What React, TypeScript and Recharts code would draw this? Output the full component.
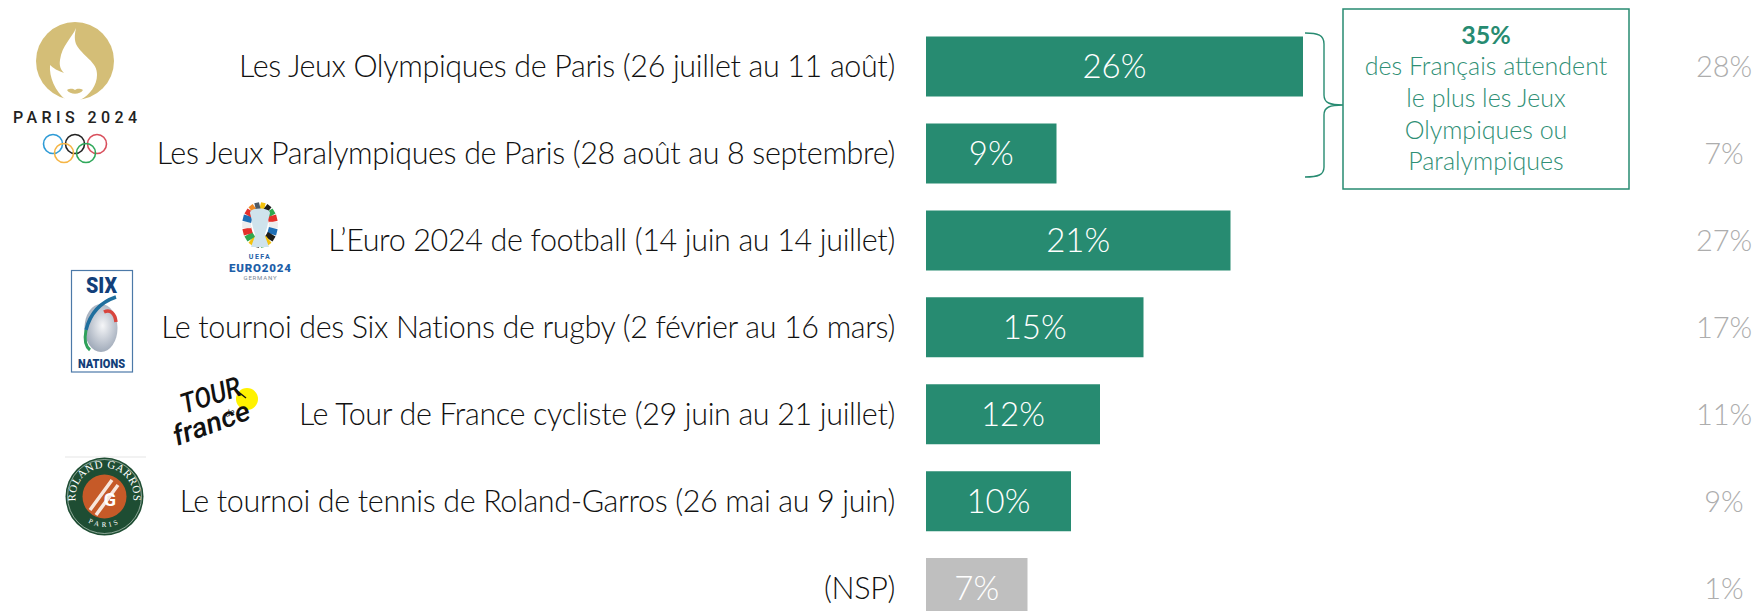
import { BarChart, Bar, XAxis, YAxis, Cell, LabelList } from "recharts";

const categories = [
  "Les Jeux Olympiques de Paris (26 juillet au 11 août)",
  "Les Jeux Paralympiques de Paris (28 août au 8 septembre)",
  "L’Euro 2024 de football (14 juin au 14 juillet)",
  "Le tournoi des Six Nations de rugby (2 février au 16 mars)",
  "Le Tour de France cycliste (29 juin au 21 juillet)",
  "Le tournoi de tennis de Roland-Garros (26 mai au 9 juin)",
  "(NSP)",
];
const currentValues = [26, 9, 21, 15, 12, 10, 7];
const previousLabels = ["28%", "7%", "27%", "17%", "11%", "9%", "1%"];
const boxLines = ["des Français attendent", "le plus les Jeux", "Olympiques ou", "Paralympiques"];
const euroStripes = ["#F4C20D", "#1D1D1B", "#2FA84F", "#E4312B", "#EDEDED", "#1F6FB5", "#1D1D1B", "#F4C20D", "#2FA84F", "#1D1D1B", "#F4C20D", "#2FA84F", "#E4312B", "#EDEDED", "#1F6FB5", "#E4312B", "#F08A24", "#4E5A66"];

const data = categories.map((name, i) => ({
  name,
  value: currentValues[i],
  previous: previousLabels[i],
}));

const FONT = "Lato, sans-serif";
const GREEN = "#278B71";
const GREY_BAR = "#BFBFBF";
const GREY_TEXT = "#ADADAD";
const TEAL_TEXT = "#2F8F75";

function CategoryTick({ x, y, payload }: any) {
  return (
    <text x={x} y={y} dy={10} textAnchor="end" fontFamily={FONT} fontWeight={300} fontSize={30.5} letterSpacing={-0.35} fill="#111">
      {payload.value}
    </text>
  );
}

function PreviousTick({ y, payload }: any) {
  return (
    <text x={1724} y={y} dy={10} textAnchor="middle" fontFamily={FONT} fontWeight={300} fontSize={29} fill={GREY_TEXT}>
      {payload.value}
    </text>
  );
}

function ParisLogo() {
  return (
    <g>
      <circle cx={75} cy={61} r={39} fill="#D4BE77" />
      <path d="M76 28 C72 38 62 45 60 60 C59 66 61 70 64 73 C58 71 53 68 50 65 C49 77 55 91 66 100 L80 100 C90 95 97 85 97 75 C98 62 82 56 76 44 C74 38 75 33 76 28 Z" fill="#fff" />
      <path d="M67 90 C71 88 73 89 75 90 C77 89 79 88 83 90 C80 95 70 95 67 90 Z" fill="#D4BE77" />
      <text x={13} y={123} fontFamily="Roboto" fontSize={16} fontWeight={500} textLength={124} fill="#222">PARIS 2024</text>
      <circle cx={53} cy={144} r={9.5} fill="none" stroke="#2E9BD6" strokeWidth={1.6} />
      <circle cx={75} cy={144} r={9.5} fill="none" stroke="#222" strokeWidth={1.6} />
      <circle cx={97} cy={144} r={9.5} fill="none" stroke="#D94F5C" strokeWidth={1.6} />
      <circle cx={64} cy={153} r={9.5} fill="none" stroke="#F5B545" strokeWidth={1.6} />
      <circle cx={86} cy={153} r={9.5} fill="none" stroke="#2FA85A" strokeWidth={1.6} />
    </g>
  );
}

function EuroLogo() {
  const step = (Math.PI * 2) / euroStripes.length;
  return (
    <g>
      {euroStripes.map((color, i) => {
        const a0 = i * step - Math.PI / 2;
        const a1 = a0 + step;
        const d = `M${260 + 13.5 * Math.cos(a0)} ${225 + 18.5 * Math.sin(a0)} L${260 + 13.5 * Math.cos(a1)} ${225 + 18.5 * Math.sin(a1)}`;
        return <path key={i} d={d} stroke={color} strokeWidth={9} fill="none" />;
      })}
      <path d="M250 213 C250 207 270 207 270 213 L268 221 C268 228 265 231 265 236 L269 247 L251 247 L255 236 C255 231 252 228 252 221 Z" fill="#CFE3EC" />
      <text x={260} y={259} textAnchor="middle" fontFamily="Roboto" fontSize={7} fontWeight={700} letterSpacing={1.5} fill="#1D5EA8">UEFA</text>
      <text x={260} y={272} textAnchor="middle" fontFamily="Roboto" fontSize={11.5} fontWeight={900} textLength={62} fill="#1D5EA8">EURO2024</text>
      <text x={260} y={280} textAnchor="middle" fontFamily="Roboto" fontSize={6} textLength={33} fill="#7A8794">GERMANY</text>
    </g>
  );
}

function SixNationsLogo() {
  return (
    <g>
      <defs>
        <radialGradient id="ball" cx="0.55" cy="0.45" r="0.6">
          <stop offset="0" stopColor="#F5F6F8" />
          <stop offset="1" stopColor="#9AA5B5" />
        </radialGradient>
      </defs>
      <rect x={71.5} y={270.5} width={61} height={101.5} fill="#fff" stroke="#4C79A8" strokeWidth={1.2} />
      <text x={101.5} y={293} textAnchor="middle" fontFamily="Roboto" fontWeight={900} fontSize={22} textLength={31} lengthAdjust="spacingAndGlyphs" fill="#123F7A">SIX</text>
      <ellipse cx={101} cy={328} rx={16.5} ry={24} fill="url(#ball)" />
      <path d="M116 297 C104 301 91 310 86 330" fill="none" stroke="#1F6F9E" strokeWidth={3.5} />
      <path d="M86 330 C84 340 85 346 90 350" fill="none" stroke="#2FA05A" strokeWidth={3} />
      <path d="M104 312 C110 309 115 313 116 322" fill="none" stroke="#D8453E" strokeWidth={3.5} />
      <text x={101.5} y={368} textAnchor="middle" fontFamily="Roboto" fontWeight={900} fontSize={13.5} textLength={47} lengthAdjust="spacingAndGlyphs" fill="#123F7A">NATIONS</text>
    </g>
  );
}

function TourLogo() {
  return (
    <g>
      <circle cx={247} cy={399} r={11} fill="#FFF200" />
      <path d="M236 390 L246 398" stroke="#111" strokeWidth={1.5} />
      <text transform="translate(184 414) rotate(-18)" fontFamily="Roboto" fontStyle="italic" fontWeight={500} fontSize={28} textLength={62} lengthAdjust="spacingAndGlyphs" fill="#111">TOUR</text>
      <text transform="translate(226 417) rotate(-15)" fontFamily="Roboto" fontStyle="italic" fontSize={9} fill="#111">de</text>
      <text transform="translate(177 446) rotate(-20)" fontFamily="Roboto" fontStyle="italic" fontWeight={500} fontSize={28} textLength={80} lengthAdjust="spacingAndGlyphs" fill="#111">france</text>
    </g>
  );
}

function RolandGarrosLogo() {
  return (
    <g>
      <line x1={65} y1={457} x2={146} y2={457} stroke="#E5E5E5" strokeWidth={1} />
      <circle cx={104.5} cy={496.5} r={39} fill="#1E4D33" />
      <circle cx={104.5} cy={496.5} r={37} fill="none" stroke="#D8E4DC" strokeWidth={0.6} />
      <circle cx={104.5} cy={496.5} r={22} fill="#C65A28" />
      <defs>
        <path id="rgTop" d="M77 506 A29 29 0 1 1 132 506" />
        <path id="rgBottom" d="M78 512 A31 31 0 0 0 131 512" />
      </defs>
      <text fontFamily="Liberation Serif" fontSize={11} fill="#fff" letterSpacing={0.5}>
        <textPath href="#rgTop" startOffset="50%" textAnchor="middle">ROLAND GARROS</textPath>
      </text>
      <text fontFamily="Liberation Serif" fontSize={7} fill="#fff" letterSpacing={3}>
        <textPath href="#rgBottom" startOffset="50%" textAnchor="middle">PARIS</textPath>
      </text>
      <path d="M90 510 L112 480 M96 515 L118 485" stroke="#F7E6DC" strokeWidth={3.5} />
      <text x={110} y={506} textAnchor="middle" fontFamily="Roboto" fontWeight={700} fontSize={18} fill="#fff">G</text>
    </g>
  );
}

function Overlay() {
  return (
    <svg width={1757} height={611} style={{ position: "absolute", left: 0, top: 0 }}>
      <ParisLogo />
      <EuroLogo />
      <SixNationsLogo />
      <TourLogo />
      <RolandGarrosLogo />
      <path d="M1305 33 C1318 33 1324 35 1324 44 L1324 95 C1324 103 1330 105 1343 105 C1330 105 1324 107 1324 115 L1324 167 C1324 175 1318 177 1305 177" fill="none" stroke={GREEN} strokeWidth={1.4} />
      <rect x={1343} y={9} width={286} height={180} fill="#fff" stroke={GREEN} strokeWidth={1.5} />
      <text x={1486} y={44} textAnchor="middle" fontFamily={FONT} fontWeight={700} fontSize={25} fill={GREEN}>35%</text>
      {boxLines.map((line, i) => (
        <text key={line} x={1486} y={75 + i * 31.8} textAnchor="middle" fontFamily={FONT} fontWeight={300} fontSize={25} fill={TEAL_TEXT}>
          {line}
        </text>
      ))}
    </svg>
  );
}

export default function App() {
  return (
    <div style={{ position: "absolute", left: 0, top: 0, width: 1757, height: 611, overflow: "hidden", background: "#fff" }}>
      <BarChart
        width={1757}
        height={632}
        data={data}
        layout="vertical"
        margin={{ top: 23.6, right: 0, bottom: 0, left: 0 }}
      >
        <XAxis type="number" domain={[0, 50]} hide />
        <YAxis yAxisId="left" type="category" dataKey="name" width={926} axisLine={false} tickLine={false} interval={0} tick={<CategoryTick />} tickMargin={25} />
        <YAxis yAxisId="right" orientation="right" type="category" dataKey="previous" width={106} axisLine={false} tickLine={false} interval={0} tick={<PreviousTick />} />
        <Bar yAxisId="left" dataKey="value" barSize={60} isAnimationActive={false}>
          {data.map((d) => (
            <Cell key={d.name} fill={d.name === "(NSP)" ? GREY_BAR : GREEN} />
          ))}
          <LabelList dataKey="value" position="center" formatter={(v: any) => `${v}%`} fill="#fff" fontFamily={FONT} fontWeight={300} fontSize={33} />
        </Bar>
      </BarChart>
      <Overlay />
    </div>
  );
}
